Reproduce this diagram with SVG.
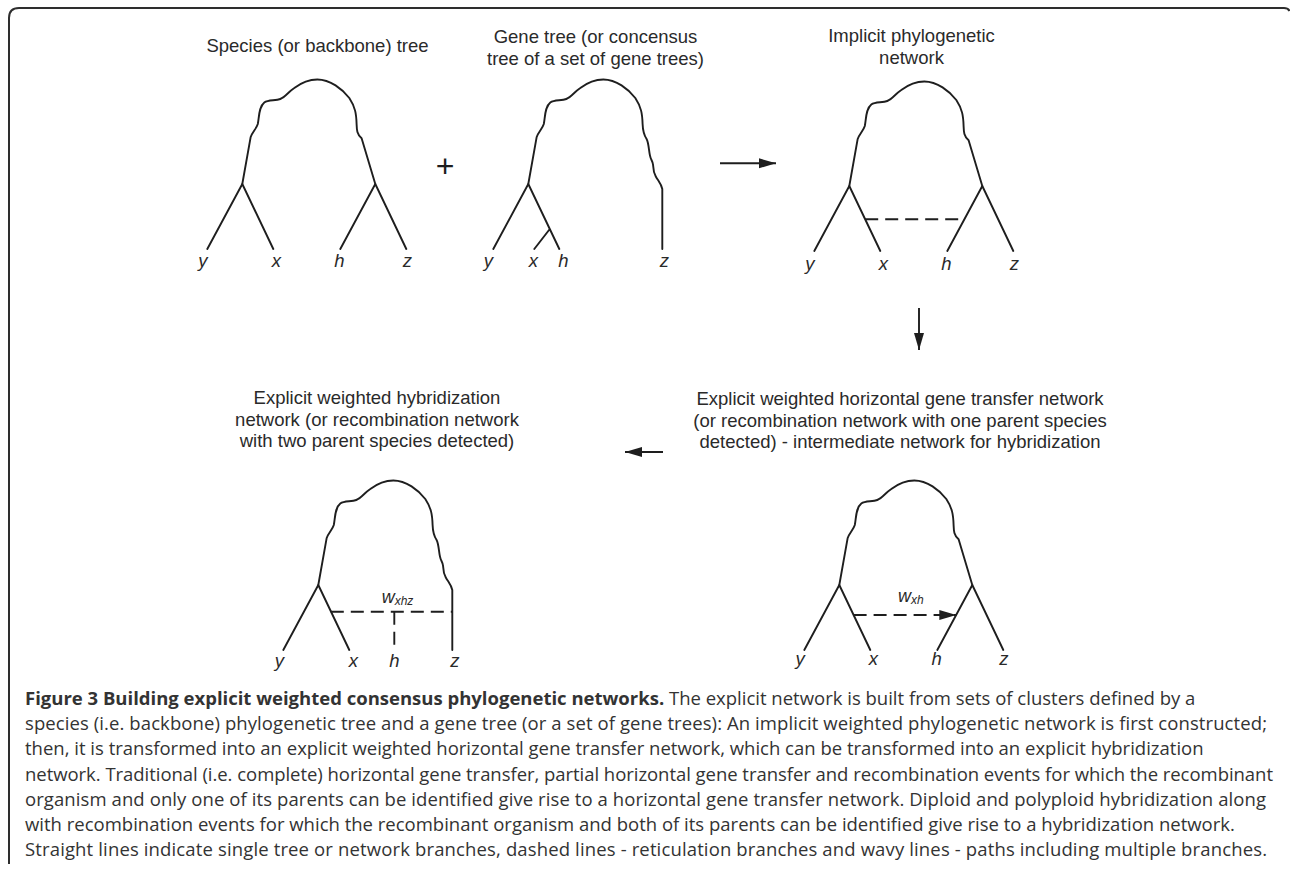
<svg xmlns="http://www.w3.org/2000/svg" xmlns:xlink="http://www.w3.org/1999/xlink" width="1290" height="875" viewBox="0 0 1290 875">
  <style>
    .ln { fill: none; stroke: #1e1e1e; stroke-width: 1.9; stroke-linecap: round; stroke-linejoin: round; }
    .dash { fill: none; stroke: #1e1e1e; stroke-width: 1.9; stroke-dasharray: 13 7; }
    .ttl { font-family: "Liberation Sans", Arial, sans-serif; font-size: 18.5px; fill: #2a2a2a; text-anchor: middle; }
    .leaf { font-family: "Liberation Sans", Arial, sans-serif; font-size: 18.5px; font-style: italic; fill: #2a2a2a; text-anchor: middle; }
    .wt { font-family: "Liberation Sans", Arial, sans-serif; font-size: 18px; font-style: italic; fill: #2a2a2a; }
    .cap { font-family: "Open Sans", "Noto Sans", sans-serif; font-size: 18.5px; fill: #333333; }
    .frame { fill: none; stroke: #2e2e2e; stroke-width: 2; }
  </style>
  <defs>
    <marker id="head" markerUnits="userSpaceOnUse" markerWidth="18" markerHeight="11" refX="17" refY="5" orient="auto" overflow="visible">
      <path d="M0 0 L17 5 L0 10 Z" fill="#1e1e1e"/>
    </marker>
    <!-- wavy crown shared by the species-style trees: left path up, over the top, down to the right node -->
    <path id="crown-sp" class="ln" d="M0 0 L8.3 -46.7 C10 -52 14 -55 15.5 -60 C17 -68 16.5 -77 22 -81.5 C26 -84.5 33 -83 38 -85 C43 -87 46 -92 52 -96 C60 -102 67 -104.5 75 -104.5 C88 -104.5 100 -95 107 -86 C113 -77 114 -70 114.3 -60 C114.5 -54 114.5 -50 119.3 -45.7 L133 0"/>
    <!-- wavy crown that runs on down to leaf z -->
    <path id="crown-gene" class="ln" d="M0 0 L8.3 -46.7 C10 -52 14 -55 15.5 -60 C17 -68 16.5 -77 22 -81.5 C26 -84.5 33 -83 38 -85 C43 -87 46 -92 52 -96 C60 -102 67 -104.5 75 -104.5 C88 -104.5 100 -95 107 -86 C113 -77 114 -70 114.3 -60 C114.5 -54 115 -50 118.3 -45 C120.5 -41 120.5 -33 121.7 -28.3 C122.5 -24 124.5 -23 124.8 -19 C125 -15 125 -12 127.5 -7.5 C130 -3 133 0 134 5 L134 65"/>
  </defs>

  <path class="frame" d="M9 864 L9 18 Q9 8 19 8 L1284 8 Q1288 8 1289.5 11"/>

  <g id="species-tree">
    <text class="ttl" x="317.5" y="51.7">Species (or backbone) tree</text>
    <g transform="translate(242.3,184)">
      <use xlink:href="#crown-sp"/>
      <path class="ln" d="M0 0 L-35 65 M0 0 L31 65 M133 0 L98 65 M133 0 L164 65"/>
      <text class="leaf" x="-39.5" y="82.7">y</text>
      <text class="leaf" x="34" y="82.7">x</text>
      <text class="leaf" x="97" y="82.7">h</text>
      <text class="leaf" x="165" y="82.7">z</text>
    </g>
  </g>

  <g id="gene-tree">
    <text class="ttl" x="595.5" y="43.3">Gene tree (or concensus</text>
    <text class="ttl" x="595.5" y="65">tree of a set of gene trees)</text>
    <g transform="translate(528.3,184)">
      <use xlink:href="#crown-gene"/>
      <path class="ln" d="M0 0 L-35 65 M0 0 L31 65 M21.5 45 L6 65"/>
      <text class="leaf" x="-40" y="82.7">y</text>
      <text class="leaf" x="5" y="82.7">x</text>
      <text class="leaf" x="35" y="82.7">h</text>
      <text class="leaf" x="136" y="82.7">z</text>
    </g>
  </g>

  <text id="plus" x="445" y="176.5" font-family="Liberation Sans, Arial, sans-serif" font-size="32" fill="#1e1e1e" text-anchor="middle">+</text>

  <g id="implicit-network">
    <text class="ttl" x="911.5" y="41.5">Implicit phylogenetic</text>
    <text class="ttl" x="911.5" y="63.5">network</text>
    <g transform="translate(849.3,186)">
      <use xlink:href="#crown-sp"/>
      <path class="ln" d="M0 0 L-35 65 M0 0 L31 65 M133 0 L98 65 M133 0 L164 65"/>
      <path class="dash" d="M15.9 33.3 L115.1 33.3"/>
      <text class="leaf" x="-39.5" y="84">y</text>
      <text class="leaf" x="34" y="84">x</text>
      <text class="leaf" x="97" y="84">h</text>
      <text class="leaf" x="165" y="84">z</text>
    </g>
  </g>

  <g id="hgt-network">
    <text class="ttl" x="900" y="405">Explicit weighted horizontal gene transfer network</text>
    <text class="ttl" x="900" y="426.7">(or recombination network with one parent species</text>
    <text class="ttl" x="900" y="448">detected) - intermediate network for hybridization</text>
    <g transform="translate(839.3,585)">
      <use xlink:href="#crown-sp"/>
      <path class="ln" d="M0 0 L-35 65 M0 0 L31 65 M133 0 L98 65 M133 0 L164 65"/>
      <path class="dash" d="M14.3 30 L117 30" marker-end="url(#head)"/>
      <text class="wt" x="58.7" y="16.7">w<tspan font-size="12" dy="2">xh</tspan></text>
      <text class="leaf" x="-39.3" y="80">y</text>
      <text class="leaf" x="34" y="80">x</text>
      <text class="leaf" x="97.4" y="80">h</text>
      <text class="leaf" x="164.7" y="80">z</text>
    </g>
  </g>

  <g id="hybridization-network">
    <text class="ttl" x="377" y="404">Explicit weighted hybridization</text>
    <text class="ttl" x="377" y="425.7">network (or recombination network</text>
    <text class="ttl" x="377" y="447">with two parent species detected)</text>
    <g transform="translate(318.3,585)">
      <use xlink:href="#crown-gene"/>
      <path class="ln" d="M0 0 L-35 65 M0 0 L31 65"/>
      <path class="dash" d="M12.5 26.7 L134 26.7 M76 26.7 L76 65"/>
      <text class="wt" x="63.4" y="18.3">w<tspan font-size="12" dy="2">xhz</tspan></text>
      <text class="leaf" x="-39" y="81.7">y</text>
      <text class="leaf" x="35" y="81.7">x</text>
      <text class="leaf" x="76" y="81.7">h</text>
      <text class="leaf" x="136.7" y="81.7">z</text>
    </g>
  </g>

  <g id="connectors">
    <path class="ln" d="M720 163.3 L776 163.3" marker-end="url(#head)" style="stroke-linecap:butt"/>
    <path class="ln" d="M919 308 L919 350" marker-end="url(#head)" style="stroke-linecap:butt"/>
    <path class="ln" d="M663 452 L625 452" marker-end="url(#head)" style="stroke-linecap:butt"/>
  </g>

  <g id="caption" class="cap">
    <text x="25" y="705"><tspan font-weight="bold">Figure 3 Building explicit weighted consensus phylogenetic networks.</tspan> The explicit network is built from sets of clusters defined by a</text>
    <text x="25" y="730.2" textLength="1242">species (i.e. backbone) phylogenetic tree and a gene tree (or a set of gene trees): An implicit weighted phylogenetic network is first constructed;</text>
    <text x="25" y="755.4">then, it is transformed into an explicit weighted horizontal gene transfer network, which can be transformed into an explicit hybridization</text>
    <text x="25" y="780.6" textLength="1248">network. Traditional (i.e. complete) horizontal gene transfer, partial horizontal gene transfer and recombination events for which the recombinant</text>
    <text x="25" y="805.8" textLength="1241">organism and only one of its parents can be identified give rise to a horizontal gene transfer network. Diploid and polyploid hybridization along</text>
    <text x="25" y="831">with recombination events for which the recombinant organism and both of its parents can be identified give rise to a hybridization network.</text>
    <text x="25" y="856.2" textLength="1242">Straight lines indicate single tree or network branches, dashed lines - reticulation branches and wavy lines - paths including multiple branches.</text>
  </g>
</svg>
